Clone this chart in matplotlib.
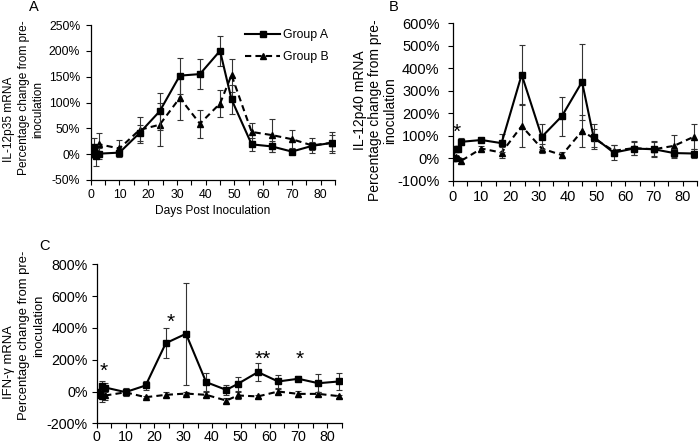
import numpy as np
import matplotlib
matplotlib.use('Agg')
import matplotlib.pyplot as plt
from matplotlib.lines import Line2D
from matplotlib.ticker import FuncFormatter, MultipleLocator

plt.rcParams['font.family'] = ['Liberation Sans', 'DejaVu Sans']

# sampling days (same for all three panels)
days = [0, 1, 2, 3, 10, 17, 24, 31, 38, 45, 49, 56, 63, 70, 77, 84]

# panel A: IL-12p35
p35_a = [0, 13, -3, 1, 3, 41, 83, 152, 155, 200, 106, 19, 15, 5, 16, 22]
p35_a_err = [0, 18, 20, 10, 5, 15, 36, 35, 29, 29, 28, 13, 10, 5, 8, 20]
p35_b = [0, 5, 8, 19, 11, 47, 57, 109, 59, 98, 153, 43, 37, 29, 17, 22]
p35_b_err = [0, 10, 10, 22, 17, 25, 42, 42, 27, 26, 32, 18, 32, 17, 14, 15]

# panel B: IL-12p40
p40_a = [0, 41, 44, 74, 82, 68, 372, 96, 188, 340, 96, 26, 44, 41, 24, 22]
p40_a_err = [0, 10, 10, 15, 8, 40, 130, 55, 87, 170, 55, 35, 28, 30, 20, 20]
p40_b = [0, 5, 0, -10, 44, 26, 144, 44, 15, 122, 90, 34, 46, 41, 56, 97]
p40_b_err = [0, 5, 5, 10, 10, 25, 95, 20, 15, 70, 40, 25, 30, 35, 50, 57]

# panel C: IFN-gamma
ifn_a = [0, -15, 35, 25, -4, 38, 304, 363, 59, 10, 48, 122, 63, 80, 52, 63]
ifn_a_err = [0, 20, 30, 30, 25, 30, 95, 320, 55, 32, 42, 58, 42, 15, 55, 55]
ifn_b = [0, -20, -30, -25, -5, -36, -21, -13, -21, -57, -25, -31, 0, -15, -15, -29]
ifn_b_err = [0, 15, 35, 30, 10, 8, 15, 12, 15, 18, 20, 10, 15, 18, 15, 10]

group_labels = ['Group A', 'Group B']

# significance marks: (day, value, text)
stars_b = [(1.5, 117, '*')]
stars_c = [(2.3, 130, '*'), (25.8, 434, '*'), (57.8, 202, '**'), (70.6, 202, '*')]

W, H = 700, 443
fig = plt.figure(figsize=(W / 100, H / 100), dpi=100)

A_STYLE = dict(color='black', ls='-', lw=1.5, marker='s', ms=4.8)
B_STYLE = dict(color='black', ls=(0, (3, 2)), lw=1.5, marker='^', ms=4.8)


def px_axes(x0, y0, x1, y1):
    # pixel box (top-left origin) -> figure axes
    return fig.add_axes([x0 / W, 1 - y1 / H, (x1 - x0) / W, (y1 - y0) / H])


def px_text(x, y, s, **kw):
    fig.text(x / W, 1 - y / H, s, **kw)


def draw_panel(ax, a, a_err, b, b_err, ylim, ystep, fs, ypad, xpad=3):
    err_kw = dict(ecolor='#333333', elinewidth=0.8, capsize=2.2, capthick=0.8)
    ax.errorbar(days, b, yerr=b_err, zorder=2, **B_STYLE, **err_kw)
    ax.errorbar(days, a, yerr=a_err, zorder=3, **A_STYLE, **err_kw)
    ax.set_xlim(0, 85)
    ax.set_ylim(*ylim)
    ax.xaxis.set_major_locator(MultipleLocator(10))
    ax.xaxis.set_minor_locator(MultipleLocator(5))
    ax.yaxis.set_major_locator(MultipleLocator(ystep))
    ax.yaxis.set_major_formatter(FuncFormatter(lambda v, p: '%d%%' % round(v)))
    for side in ['top', 'right']:
        ax.spines[side].set_visible(False)
    for side in ['left', 'bottom']:
        ax.spines[side].set_linewidth(0.9)
    ax.tick_params(axis='both', which='both', direction='out', length=3.5,
                   width=0.8, labelsize=fs)
    ax.tick_params(axis='y', pad=ypad)
    ax.tick_params(axis='x', pad=xpad)
    ax.patch.set_alpha(0)


# panel A
axA = px_axes(90.7, 25, 335, 180)
draw_panel(axA, p35_a, p35_a_err, p35_b, p35_b_err, (-50, 250), 50, 8.8, 4)
axA.set_xlabel('Days Post Inoculation', fontsize=8.6, labelpad=3)
handles = [Line2D([], [], **A_STYLE), Line2D([], [], **B_STYLE)]
axA.legend(handles, group_labels, loc='upper left', frameon=False,
           bbox_to_anchor=(245 / W, 1 - 29 / H), bbox_transform=fig.transFigure,
           borderpad=0, borderaxespad=0, handlelength=2.9, handletextpad=0.2,
           labelspacing=0.85, fontsize=8.8, numpoints=1)

# panel B
axB = px_axes(452.7, 23.3, 697, 181)
draw_panel(axB, p40_a, p40_a_err, p40_b, p40_b_err, (-100, 600), 100, 10.5, 6)
for x, y, s in stars_b:
    axB.text(x, y, s, fontsize=15, ha='center', va='center')

# panel C
axC = px_axes(96.7, 264.3, 341.5, 423.3)
draw_panel(axC, ifn_a, ifn_a_err, ifn_b, ifn_b_err, (-200, 800), 200, 10.3, 3, xpad=1.5)
for x, y, s in stars_c:
    axC.text(x, y, s, fontsize=15, ha='center', va='center')

# rotated axis titles, one line at a time
ylab = [
    (9, 119, 'IL-12p35 mRNA', 8.6), (24.5, 98, 'Percentage change from pre-', 8.6),
    (38, 110, 'inoculation', 8.6),
    (360, 100, 'IL-12p40 mRNA', 10), (375, 110, 'Percentage change from pre-', 10),
    (390, 111, 'inoculation', 10),
    (9, 362, 'IFN-\u03b3 mRNA', 9.4), (24, 335, 'Percentage change from pre-', 9.4),
    (39, 326, 'inoculation', 9.4),
]
for x, y, s, f in ylab:
    px_text(x, y, s, rotation=90, ha='center', va='center', fontsize=f)

# panel letters
for x, y, s in [(34, 7, 'A'), (394, 7, 'B'), (44, 246, 'C')]:
    px_text(x, y, s, ha='center', va='center', fontsize=10.5)

fig.savefig('out.png', dpi=100)
